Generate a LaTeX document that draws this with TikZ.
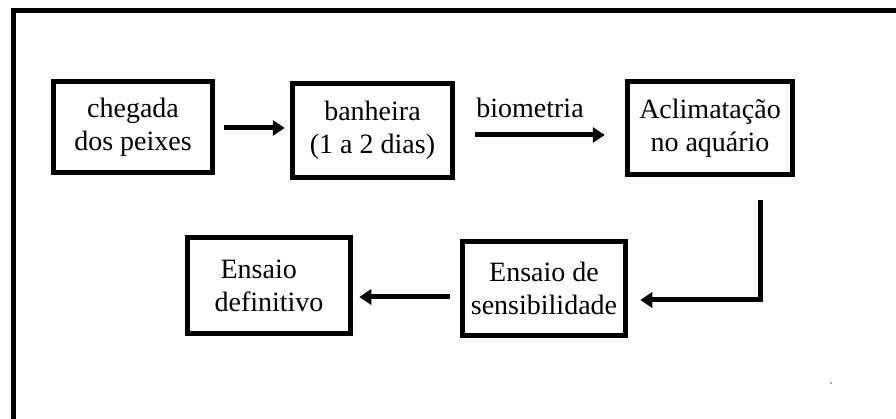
\documentclass[tikz,border=0pt]{standalone}
\usepackage{fontspec}
\setmainfont{Liberation Serif}
\usetikzlibrary{arrows.meta,calc}
\begin{document}
\begin{tikzpicture}[x=1pt,y=-1pt,
  box/.style={draw, line width=5.5pt, inner sep=0pt, align=center,
    font=\fontsize{28}{33}\selectfont},
  arr/.style={line width=5pt, -{Triangle[length=12pt,width=15pt]}},
  lbl/.style={font=\fontsize{28}{33}\selectfont, inner sep=0pt}]
\useasboundingbox (0,0) rectangle (896,419);
\clip (0,0) rectangle (896,419);
\draw[line width=5pt] (13.5,440) -- (13.5,11) -- (920,11);
\node[box, minimum width=159pt, minimum height=91pt] (c) at (133,127) {chegada\\dos peixes};
\node[box, minimum width=160pt, minimum height=94pt] (b) at (372.5,130.5) {banheira\\(1 a 2 dias)};
\node[box, minimum width=165pt, minimum height=93pt] (a) at (710,128) {Aclimata\c{c}\~ao\\no aqu\'ario};
\node[box, minimum width=163pt, minimum height=94pt] (s) at (544,288.5) {Ensaio de\\sensibilidade};
\node[box, minimum width=163pt, minimum height=96pt, align=left] (d) at (269,285.5) {\hspace*{6pt}Ensaio\\definitivo};
\node[lbl, anchor=base] (bio) at (530,118) {biometria};
\draw[arr] ($(c.east)+(9,1)$) -- ($(c.east -| b.west)+(-5,1)$);
\draw[arr] ($(b.east)+(20,4.5)$) -- ($(b.east -| a.west)+(-20,4.5)$);
\draw[arr] ($(a.south)+(50,23)$) |- ($(s.east)+(12,11.5)$);
\draw[arr] ($(s.west)+(-10,8.5)$) -- ($(s.west -| d.east)+(6,8.5)$);
\fill[gray] (831,383) circle (1pt);
\end{tikzpicture}
\end{document}
